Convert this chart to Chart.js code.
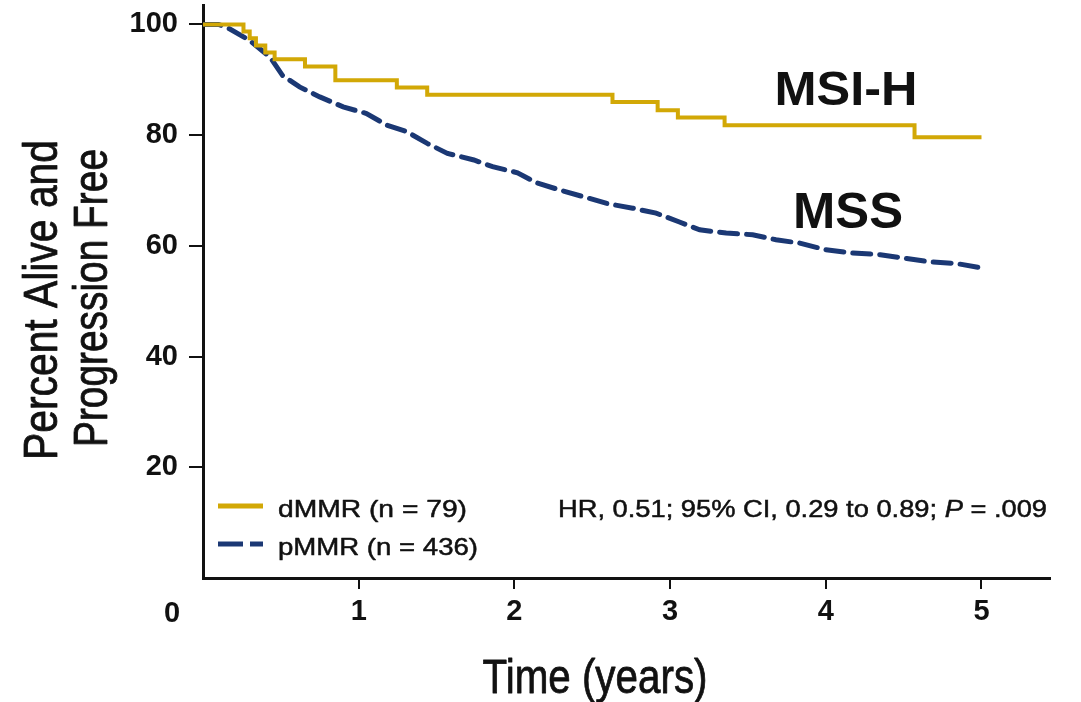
<!DOCTYPE html>
<html>
<head>
<meta charset="utf-8">
<script src="https://cdn.jsdelivr.net/npm/chart.js@4.4.1/dist/chart.umd.min.js"></script>
<style>
  body { margin: 0; background: #fff; }
</style>
</head>
<body>
<canvas id="kmChart" width="1081" height="702"></canvas>
<script>
// dMMR (MSI-H) - Kaplan-Meier steps
const dmmrTimes = [0, 0.26, 0.30, 0.34, 0.40, 0.46, 0.655, 0.85, 1.245, 1.44, 2.63, 2.92, 3.05, 3.35, 4.57, 5.0];
const dmmrSurv  = [100, 98.7, 97.5, 96.2, 94.9, 93.7, 92.4, 89.9, 88.6, 87.3, 86.0, 84.5, 83.2, 81.8, 79.6, 79.6];

// pMMR (MSS)
const pmmrTimes = [0, 0.10, 0.17, 0.30, 0.43, 0.51, 0.62, 0.75, 0.90, 1.05, 1.18, 1.31, 1.44, 1.57, 1.74, 1.86,
                   2.02, 2.14, 2.29, 2.44, 2.60, 2.76, 2.91, 3.06, 3.19, 3.36, 3.53, 3.68, 3.83, 4.00, 4.17, 4.35,
                   4.52, 4.67, 4.84, 5.0];
const pmmrSurv  = [100, 100, 99.2, 97.1, 94.1, 90.8, 88.7, 86.9, 85.1, 83.9, 81.8, 80.6, 78.5, 76.7, 75.5, 74.3,
                   73.2, 71.4, 70.1, 68.9, 67.6, 66.8, 65.9, 64.3, 62.9, 62.3, 62.0, 61.1, 60.5, 59.3, 58.7, 58.4,
                   57.7, 57.1, 56.8, 56.0];

const xTicks = [1, 2, 3, 4, 5];
const yTicks = [20, 40, 60, 80, 100];

const seriesLabels = ['dMMR (n = 79)', 'pMMR (n = 436)'];
const curveNames = ['MSI-H', 'MSS'];
const statsText = ['HR, 0.51; 95% CI, 0.29 to 0.89; ', 'P', ' = .009'];

const GOLD = '#d2a806';
const NAVY = '#1b3874';
const INK = '#111111';
const SANS = '"Liberation Sans", Arial, sans-serif';

const toPoints = (xs, ys) => xs.map((x, i) => ({ x: x, y: ys[i] }));

// draw text squeezed/stretched to a given width
function fitText(ctx, text, x, y, width, font, align, rotate, heavy) {
  ctx.save();
  ctx.font = font;
  const sx = width / ctx.measureText(text).width;
  ctx.translate(x, y);
  if (rotate) ctx.rotate(-Math.PI / 2);
  ctx.scale(sx, 1);
  ctx.textAlign = align;
  ctx.textBaseline = 'alphabetic';
  ctx.fillText(text, 0, 0);
  if (heavy) {
    ctx.strokeStyle = ctx.fillStyle;
    ctx.lineWidth = heavy;
    ctx.lineJoin = 'round';
    ctx.strokeText(text, 0, 0);
  }
  ctx.restore();
}

const annotations = {
  id: 'annotations',
  afterDraw(chart) {
    const ctx = chart.ctx;
    const ds = chart.data.datasets;
    ctx.save();
    ctx.fillStyle = INK;

    // axis titles
    fitText(ctx, 'Percent Alive and', 57, 300, 320, '48px ' + SANS, 'center', true, 0.8);
    fitText(ctx, 'Progression Free', 107, 298, 298, '48px ' + SANS, 'center', true, 0.8);
    fitText(ctx, 'Time (years)', 595, 693, 225, '48px ' + SANS, 'center', false, 0.8);

    // corner zero
    ctx.font = 'bold 29px ' + SANS;
    ctx.textAlign = 'center';
    ctx.textBaseline = 'middle';
    ctx.fillText('0', 172, 614);

    // curve names
    fitText(ctx, curveNames[0], 846, 105, 143, 'bold 49px ' + SANS, 'center', false);
    fitText(ctx, curveNames[1], 848, 228, 110, 'bold 50px ' + SANS, 'center', false);

    // legend
    ctx.lineCap = 'butt';
    ctx.strokeStyle = ds[0].borderColor;
    ctx.lineWidth = 5;
    ctx.beginPath(); ctx.moveTo(218, 506); ctx.lineTo(263, 506); ctx.stroke();
    ctx.strokeStyle = ds[1].borderColor;
    ctx.beginPath(); ctx.moveTo(218, 544); ctx.lineTo(243, 544); ctx.stroke();
    ctx.beginPath(); ctx.moveTo(250, 544); ctx.lineTo(263, 544); ctx.stroke();
    fitText(ctx, ds[0].label, 278, 517, 189, '24px ' + SANS, 'left', false, 0.5);
    fitText(ctx, ds[1].label, 278, 555, 200, '24px ' + SANS, 'left', false, 0.5);

    // stats text with italic P
    const fonts = ['24px ' + SANS, 'italic 24px ' + SANS, '24px ' + SANS];
    const widths = statsText.map((t, i) => { ctx.font = fonts[i]; return ctx.measureText(t).width; });
    const total = widths.reduce((a, b) => a + b, 0);
    const sx = 489 / total;
    ctx.save();
    ctx.translate(558, 517);
    ctx.scale(sx, 1);
    ctx.textAlign = 'left';
    ctx.textBaseline = 'alphabetic';
    ctx.strokeStyle = INK;
    ctx.lineWidth = 0.5;
    let pos = 0;
    statsText.forEach((t, i) => {
      ctx.font = fonts[i];
      ctx.fillText(t, pos, 0);
      ctx.strokeText(t, pos, 0);
      pos += widths[i];
    });
    ctx.restore();

    ctx.restore();
  }
};

const config = {
  type: 'line',
  data: {
    datasets: [{
      label: seriesLabels[0],
      data: toPoints(dmmrTimes, dmmrSurv),
      borderColor: GOLD,
      borderWidth: 4,
      stepped: 'before',
      pointRadius: 0,
      fill: false
    }, {
      label: seriesLabels[1],
      data: toPoints(pmmrTimes, pmmrSurv),
      borderColor: NAVY,
      borderWidth: 5,
      borderDash: [18, 9],
      borderCapStyle: 'round',
      pointRadius: 0,
      tension: 0,
      fill: false
    }]
  },
  options: {
    responsive: false,
    animation: false,
    layout: { padding: { top: 5, right: 31, left: 0, bottom: 0 } },
    plugins: {
      legend: { display: false },
      tooltip: { enabled: false }
    },
    scales: {
      x: {
        type: 'linear',
        min: 0,
        max: 5.44,
        afterBuildTicks: s => { s.ticks = xTicks.map(v => ({ value: v })); },
        afterFit: s => { s.height = 124; s.paddingLeft = 0; s.paddingRight = 0; },
        grid: { drawOnChartArea: false, drawTicks: true, tickLength: 11, color: INK, lineWidth: 2 },
        border: { display: true, color: INK, width: 3 },
        ticks: { font: { family: SANS, size: 29, weight: 'bold' }, color: INK, padding: 6, maxRotation: 0, autoSkip: false }
      },
      y: {
        type: 'linear',
        min: 0,
        max: 103.5,
        afterBuildTicks: s => { s.ticks = yTicks.map(v => ({ value: v })); },
        afterFit: s => { s.width = 203; s.paddingTop = 0; s.paddingBottom = 0; },
        grid: { drawOnChartArea: false, drawTicks: true, tickLength: 14, color: INK, lineWidth: 2 },
        border: { display: true, color: INK, width: 3 },
        ticks: { font: { family: SANS, size: 29, weight: 'bold' }, color: INK, padding: 11, autoSkip: false }
      }
    }
  },
  plugins: [annotations]
};

const kmChart = new Chart(document.getElementById('kmChart'), config);
</script>
</body>
</html>
